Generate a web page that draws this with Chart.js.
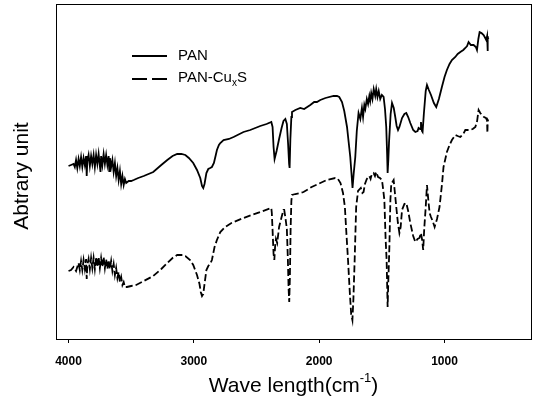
<!DOCTYPE html>
<html lang="en">
<head>
    <meta charset="UTF-8">
    <title>FTIR PAN / PAN-CuxS</title>
    <script src="https://cdn.jsdelivr.net/npm/chart.js"></script>
    <style>
        body { margin: 0; background: #fff; }
    </style>
</head>
<body>
    <canvas id="ftir" width="534" height="409"></canvas>
    <script>
        // wavenumber (cm-1) / arbitrary intensity
        const panWave = [4000, 3980, 3960, 3950, 3940, 3930, 3920, 3910, 3900, 3890, 3880, 3870, 3860, 3855, 3850, 3840, 3830, 3820, 3810, 3800,
            3790, 3780, 3770, 3760, 3750, 3745, 3740, 3730, 3720, 3710, 3700, 3690, 3680, 3675, 3670, 3660, 3650, 3640, 3630, 3620,
            3610, 3600, 3590, 3580, 3570, 3560, 3550, 3540, 3520, 3500, 3480, 3444, 3400, 3324, 3260, 3212, 3170, 3133, 3100, 3068,
            3040, 3005, 2975, 2949, 2935, 2925, 2915, 2900, 2885, 2870, 2856, 2840, 2825, 2816, 2800, 2789, 2763, 2720, 2683, 2604,
            2550, 2470, 2420, 2382, 2372, 2364, 2356, 2350, 2340, 2320, 2300, 2285, 2270, 2258, 2248, 2240, 2236, 2230, 2222, 2217,
            2190, 2151, 2120, 2071, 2040, 2018, 1991, 1950, 1885, 1858, 1840, 1818, 1800, 1778, 1765, 1752, 1742, 1734, 1725, 1712,
            1700, 1686, 1672, 1659, 1650, 1640, 1632, 1620, 1610, 1600, 1593, 1585, 1575, 1565, 1553, 1545, 1535, 1525, 1513, 1500,
            1486, 1475, 1465, 1458, 1454, 1448, 1443, 1430, 1419, 1405, 1393, 1382, 1371, 1360, 1339, 1320, 1305, 1290, 1273, 1250,
            1233, 1215, 1207, 1195, 1188, 1180, 1175, 1165, 1150, 1140, 1125, 1108, 1085, 1066, 1045, 1021, 1000, 981, 960, 941,
            914, 895, 874, 850, 834, 820, 808, 790, 768, 750, 741, 730, 720, 705, 688, 675, 667, 660, 657, 654, 650];
        const panValue = [173, 174, 175, 172, 179, 171, 180, 173, 182, 172, 181, 174, 183, 163, 178, 184, 173, 183, 175, 184,
            172, 184, 175, 185, 173, 167, 183, 174, 185, 175, 184, 174, 183, 168, 181, 172, 179, 167, 176, 163,
            171, 159, 168, 155, 163, 154, 160, 156, 158, 158, 159, 161, 163, 167, 174, 179, 183, 185, 185, 184,
            181, 176, 169, 161, 153, 151, 155, 166, 170, 171, 172, 176, 184, 189, 194, 196, 199, 200, 202, 207,
            209, 213, 215, 217, 212, 192, 180, 183, 188, 200, 211, 218, 220, 215, 195, 175, 171, 200, 222, 227,
            229, 231, 230, 234, 237, 237, 239, 241, 243, 243, 242, 237, 228, 212, 197, 182, 165, 151, 165, 182,
            208, 226, 220, 231, 222, 234, 230, 240, 235, 243, 238, 246, 240, 250, 243, 250, 242, 248, 240, 244,
            242, 230, 212, 185, 166, 180, 196, 225, 236, 231, 222, 213, 209, 212, 221, 225, 226, 222, 216, 209,
            207, 208, 211, 210, 217, 208, 207, 225, 248, 254, 249, 244, 236, 232, 240, 252, 262, 269, 275, 279,
            282, 285, 287, 289, 291, 293, 297, 294, 294, 292, 289, 300, 307, 306, 304, 301, 299, 303, 288, 302, 300];

        const cuWave = [4000, 3980, 3960, 3940, 3920, 3910, 3900, 3890, 3880, 3870, 3860, 3855, 3850, 3840, 3830, 3820, 3810, 3800, 3790, 3780,
            3770, 3760, 3750, 3740, 3730, 3720, 3710, 3700, 3690, 3680, 3670, 3660, 3650, 3640, 3630, 3620, 3610, 3600, 3590, 3580,
            3570, 3560, 3550, 3534, 3500, 3460, 3400, 3324, 3260, 3212, 3170, 3133, 3090, 3068, 3030, 3005, 2975, 2955, 2945, 2935,
            2925, 2915, 2900, 2885, 2870, 2856, 2835, 2816, 2789, 2750, 2700, 2604, 2470, 2382, 2378, 2372, 2364, 2358, 2352, 2345,
            2335, 2320, 2300, 2285, 2279, 2268, 2258, 2250, 2244, 2239, 2234, 2228, 2222, 2217, 2190, 2151, 2125, 2060, 1991, 1940,
            1872, 1850, 1830, 1810, 1795, 1785, 1770, 1755, 1745, 1735, 1727, 1717, 1705, 1690, 1668, 1655, 1646, 1635, 1620, 1600,
            1590, 1580, 1566, 1555, 1545, 1530, 1515, 1499, 1490, 1480, 1470, 1462, 1454, 1448, 1440, 1432, 1425, 1406, 1395, 1385,
            1372, 1360, 1350, 1339, 1320, 1305, 1290, 1273, 1250, 1233, 1215, 1200, 1188, 1180, 1170, 1162, 1150, 1140, 1130, 1119,
            1108, 1095, 1079, 1060, 1040, 1020, 1008, 981, 960, 941, 914, 895, 874, 850, 834, 815, 794, 775, 754, 740,
            728, 715, 700, 685, 670, 661, 658, 655, 650];
        const cuValue = [68, 69, 72, 68, 76, 69, 78, 69, 79, 70, 80, 60, 74, 80, 70, 81, 71, 81, 70, 82,
            72, 82, 71, 81, 72, 82, 71, 80, 70, 79, 70, 78, 68, 75, 64, 71, 61, 67, 57, 62,
            54, 57, 52, 52, 53, 54, 58, 63, 70, 76, 81, 84, 84, 83, 79, 74, 64, 55, 47, 43,
            45, 55, 69, 73, 75, 79, 92, 99, 107, 112, 116, 121, 127, 131, 126, 109, 85, 79, 92, 100,
            96, 112, 122, 129, 129, 120, 110, 80, 50, 37, 60, 110, 138, 144, 145, 146, 147, 152, 156, 159,
            161, 160, 156, 146, 132, 110, 79, 45, 25, 19, 40, 79, 132, 148, 151, 146, 147, 155, 160, 163,
            160, 165, 166, 163, 167, 162, 161, 159, 150, 139, 100, 79, 32, 60, 92, 139, 155, 159, 145, 132,
            116, 106, 112, 129, 135, 136, 128, 116, 103, 97, 100, 101, 106, 100, 89, 110, 132, 154, 140, 126,
            122, 118, 112, 120, 132, 155, 172, 187, 194, 199, 204, 203, 202, 205, 209, 209, 209, 210, 212, 218,
            229, 226, 224, 222, 221, 219, 206, 219, 218];

        const xTicks = [4000, 3000, 2000, 1000];
        const seriesNames = ['PAN', 'PAN-Cu', 'x', 'S'];

        const toPoints = (w, v) => w.map((x, i) => ({ x: x, y: v[i] }));

        // frame, legend and axis titles drawn on the canvas
        const decor = {
            id: 'decor',
            afterDraw(chart) {
                const ctx = chart.ctx;
                const a = chart.chartArea;
                ctx.save();
                ctx.strokeStyle = '#000';
                ctx.lineWidth = 1;
                ctx.strokeRect(Math.round(a.left) + 0.5, Math.round(a.top) + 0.5,
                    Math.round(a.right - a.left), Math.round(a.bottom - a.top));

                // legend
                const ds = chart.data.datasets;
                ctx.lineWidth = ds[0].borderWidth;
                ctx.beginPath();
                ctx.moveTo(132, 56);
                ctx.lineTo(167, 56);
                ctx.stroke();
                ctx.setLineDash([15, 5]);
                ctx.lineWidth = ds[1].borderWidth;
                ctx.beginPath();
                ctx.moveTo(132, 79);
                ctx.lineTo(167, 79);
                ctx.stroke();
                ctx.setLineDash([]);

                ctx.fillStyle = '#000';
                ctx.textBaseline = 'middle';
                ctx.textAlign = 'left';
                ctx.font = '15px "Liberation Sans", Arial, sans-serif';
                ctx.fillText(seriesNames[0], 178, 56);
                let x = 178;
                ctx.fillText(seriesNames[1], x, 78);
                x += ctx.measureText(seriesNames[1]).width;
                ctx.font = '10px "Liberation Sans", Arial, sans-serif';
                ctx.fillText(seriesNames[2], x, 83);
                x += ctx.measureText(seriesNames[2]).width;
                ctx.font = '15px "Liberation Sans", Arial, sans-serif';
                ctx.fillText(seriesNames[3], x, 78);

                // x title with superscript
                const big = '21px "Liberation Sans", Arial, sans-serif';
                const small = '13px "Liberation Sans", Arial, sans-serif';
                const p1 = 'Wave length(cm', p2 = '-1', p3 = ')';
                ctx.font = big;
                const w1 = ctx.measureText(p1).width, w3 = ctx.measureText(p3).width;
                ctx.font = small;
                const w2 = ctx.measureText(p2).width;
                let tx = (a.left + a.right) / 2 - (w1 + w2 + w3) / 2;
                const ty = 386;
                ctx.font = big;
                ctx.fillText(p1, tx, ty);
                tx += w1;
                ctx.font = small;
                ctx.fillText(p2, tx, ty - 8);
                tx += w2;
                ctx.font = big;
                ctx.fillText(p3, tx, ty);

                // y title
                ctx.translate(22, 176);
                ctx.rotate(-Math.PI / 2);
                ctx.textAlign = 'center';
                ctx.fillText('Abtrary unit', 0, 0);
                ctx.restore();
            }
        };

        new Chart(document.getElementById('ftir').getContext('2d'), {
            type: 'line',
            data: {
                datasets: [
                    {
                        label: 'PAN',
                        data: toPoints(panWave, panValue),
                        borderColor: '#000',
                        borderWidth: 1.8,
                        pointRadius: 0,
                        fill: false,
                    },
                    {
                        label: 'PAN-CuxS',
                        data: toPoints(cuWave, cuValue),
                        borderColor: '#000',
                        borderWidth: 1.8,
                        borderDash: [7, 3],
                        pointRadius: 0,
                        fill: false,
                    },
                ],
            },
            options: {
                responsive: false,
                animation: false,
                layout: { padding: { left: 56, right: 3, top: 4, bottom: 0 } },
                plugins: {
                    legend: { display: false },
                    tooltip: { enabled: false },
                },
                scales: {
                    x: {
                        type: 'linear',
                        reverse: true,
                        min: 310,
                        max: 4100,
                        afterBuildTicks: s => { s.ticks = xTicks.map(v => ({ value: v })); },
                        afterFit: s => { s.height = 70; },
                        border: { display: false },
                        grid: { drawOnChartArea: false, tickLength: 4, color: '#000' },
                        ticks: {
                            color: '#000',
                            padding: 11,
                            maxRotation: 0,
                            font: { family: '"Liberation Sans", Arial, sans-serif', size: 12, weight: 'bold' },
                            callback: v => String(v),
                        },
                    },
                    y: { display: false, min: 0, max: 335 },
                },
            },
            plugins: [decor],
        });
    </script>
</body>
</html>
